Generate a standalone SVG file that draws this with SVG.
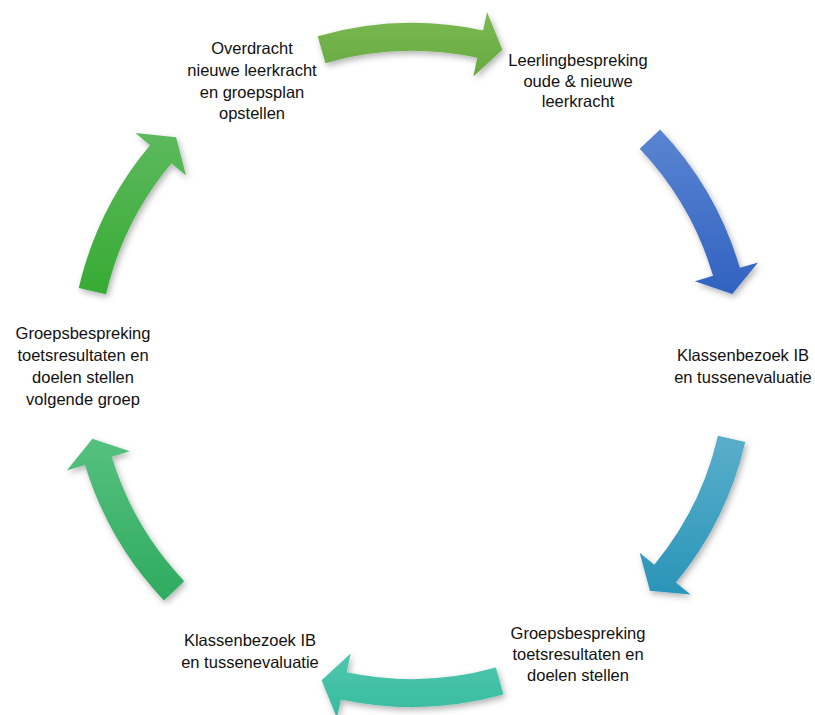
<svg xmlns="http://www.w3.org/2000/svg" width="815" height="715" viewBox="0 0 815 715">
<defs>
<style>
text{font-family:"Liberation Sans",Arial,sans-serif;font-size:16.5px;fill:#111;text-anchor:middle}
.arr{filter:url(#sh)}
</style>
<filter id="sh" x="-20%" y="-20%" width="140%" height="140%">
<feDropShadow dx="2" dy="3" stdDeviation="3" flood-color="#000" flood-opacity="0.3"/>
</filter>
<linearGradient id="g1" x1="0" y1="0" x2="0" y2="1"><stop offset="0" stop-color="#7bb953"/><stop offset="1" stop-color="#66aa40"/></linearGradient>
<linearGradient id="g2" x1="0" y1="0" x2="0" y2="1"><stop offset="0" stop-color="#5a84d0"/><stop offset="1" stop-color="#3163c1"/></linearGradient>
<linearGradient id="g3" x1="0" y1="0" x2="0" y2="1"><stop offset="0" stop-color="#5aaecb"/><stop offset="1" stop-color="#2a95b8"/></linearGradient>
<linearGradient id="g4" x1="0" y1="0" x2="0" y2="1"><stop offset="0" stop-color="#4fc7af"/><stop offset="1" stop-color="#36bb9e"/></linearGradient>
<linearGradient id="g5" x1="0" y1="0" x2="0" y2="1"><stop offset="0" stop-color="#56c17f"/><stop offset="1" stop-color="#2eab60"/></linearGradient>
<linearGradient id="g6" x1="0" y1="0" x2="0" y2="1"><stop offset="0" stop-color="#5db95d"/><stop offset="1" stop-color="#36ab33"/></linearGradient>
</defs>
<rect width="815" height="715" fill="#fff"/>
<g id="connectors">
<path class="arr" fill="url(#g1)" d="M317.73,36.25 A342,342 0 0,1 483.11,30.47 L487.06,11.89 L502.41,49.71 L473.33,76.45 L477.28,57.86 A314,314 0 0,0 325.45,63.16 Z"/>
<path class="arr" fill="url(#g2)" d="M660.08,129.58 A342,342 0 0,1 739.92,267.87 L758.13,262.47 L732.23,294.01 L694.85,281.21 L713.07,275.82 A314,314 0 0,0 639.77,148.86 Z"/>
<path class="arr" fill="url(#g3)" d="M745.23,441.93 A342,342 0 0,1 675.89,582.54 L690.55,594.62 L649.92,590.78 L639.63,552.64 L654.29,564.73 A314,314 0 0,0 717.95,435.63 Z"/>
<path class="arr" fill="url(#g4)" d="M503.40,694.56 A342,342 0 0,1 340.89,699.53 L336.94,718.11 L321.59,680.29 L350.67,653.55 L346.72,672.14 A314,314 0 0,0 495.91,667.58 Z"/>
<path class="arr" fill="url(#g5)" d="M163.92,600.42 A342,342 0 0,1 84.95,464.99 L66.78,470.55 L92.41,438.78 L129.89,451.25 L111.72,456.80 A314,314 0 0,0 184.23,581.14 Z"/>
<path class="arr" fill="url(#g6)" d="M78.77,288.07 A342,342 0 0,1 150.01,145.17 L135.46,132.95 L176.06,137.15 L186.02,175.38 L171.46,163.16 A314,314 0 0,0 106.05,294.37 Z"/>
</g>
<g id="n1"><text x="252" y="54">Overdracht</text><text x="252" y="76">nieuwe leerkracht</text><text x="252" y="98">en groepsplan</text><text x="252" y="119">opstellen</text></g>
<g id="n2"><text x="578" y="66">Leerlingbespreking</text><text x="578" y="87">oude &amp; nieuwe</text><text x="578" y="107">leerkracht</text></g>
<g id="n3"><text x="743" y="361">Klassenbezoek IB</text><text x="743" y="383">en tussenevaluatie</text></g>
<g id="n4"><text x="578" y="639">Groepsbespreking</text><text x="578" y="660">toetsresultaten en</text><text x="578" y="681">doelen stellen</text></g>
<g id="n5"><text x="250" y="646">Klassenbezoek IB</text><text x="250" y="668">en tussenevaluatie</text></g>
<g id="n6"><text x="83" y="339">Groepsbespreking</text><text x="83" y="361">toetsresultaten en</text><text x="83" y="383">doelen stellen</text><text x="83" y="405">volgende groep</text></g>
</svg>
